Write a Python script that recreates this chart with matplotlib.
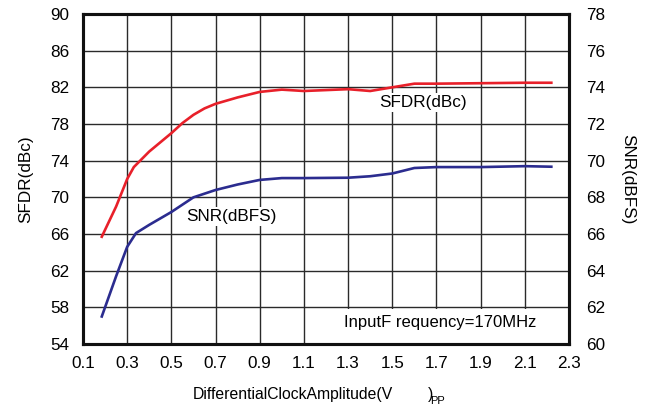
import matplotlib
matplotlib.use("Agg")
import matplotlib.pyplot as plt
from matplotlib.patches import Rectangle

plt.rcParams['font.family'] = ['Liberation Sans', 'DejaVu Sans']

# SFDR (left axis, dBc)
sfdr_x = [0.185, 0.25, 0.3, 0.33, 0.4, 0.5, 0.55, 0.6, 0.65, 0.7, 0.8, 0.9, 1.0,
          1.1, 1.2, 1.3, 1.4, 1.5, 1.6, 1.7, 1.9, 2.1, 2.22]
sfdr = [65.7, 69.0, 72.0, 73.3, 75.0, 77.0, 78.1, 79.0, 79.7, 80.2, 80.9, 81.5,
        81.75, 81.6, 81.7, 81.8, 81.6, 82.0, 82.4, 82.4, 82.45, 82.5, 82.5]

# SNR (right axis, dBFS)
snr_x = [0.185, 0.25, 0.3, 0.34, 0.4, 0.5, 0.6, 0.7, 0.8, 0.9, 1.0, 1.1, 1.3,
         1.4, 1.5, 1.6, 1.7, 1.9, 2.1, 2.22]
snr = [61.5, 63.7, 65.3, 66.05, 66.5, 67.2, 68.0, 68.4, 68.7, 68.95, 69.05,
       69.05, 69.07, 69.15, 69.3, 69.6, 69.65, 69.65, 69.7, 69.67]

x_ticks = [0.1, 0.3, 0.5, 0.7, 0.9, 1.1, 1.3, 1.5, 1.7, 1.9, 2.1, 2.3]
left_ticks = [54, 58, 62, 66, 70, 74, 78, 82, 86, 90]
right_ticks = [60, 62, 64, 66, 68, 70, 72, 74, 76, 78]

red = '#e8202a'
blue = '#2b2c8f'

fig = plt.figure(figsize=(6.47, 4.07), dpi=100)
ax = fig.add_axes([83 / 647, 63 / 407, 486 / 647, 330 / 407])
ax2 = ax.twinx()

ax.set_xlim(0.1, 2.3)
ax.set_ylim(54, 90)
ax2.set_ylim(60, 78)
ax.set_xticks(x_ticks)
ax.set_xticklabels([f"{v:.1f}" for v in x_ticks])
ax.set_yticks(left_ticks)
ax2.set_yticks(right_ticks)

ax.set_axisbelow(True)
ax.grid(True, color='#2a2a2a', linewidth=1.0)
ax.tick_params(length=0, labelsize=12.3, pad=10)
ax.tick_params(axis='x', pad=9)
ax2.tick_params(length=0, labelsize=12.3, pad=12)

for a in (ax, ax2):
    for s in a.spines.values():
        s.set_linewidth(2.2)
        s.set_color('#111111')

ax.plot(sfdr_x, sfdr, color=red, linewidth=1.9, solid_joinstyle='round', zorder=3)
ax2.plot(snr_x, snr, color=blue, linewidth=1.9, solid_joinstyle='round', zorder=3)

# white box behind the note at bottom right
ax.add_patch(Rectangle((1.25, 54), 1.05, 3.85, facecolor='white', edgecolor='none', zorder=1))

txt_box = dict(facecolor='white', edgecolor='none', pad=1.5)
ax.text(1.637, 80.3, 'SFDR(dBc)', fontsize=12.3, ha='center', va='center', bbox=txt_box, zorder=2)
ax.text(0.77, 67.9, 'SNR(dBFS)', fontsize=12.3, ha='center', va='center', bbox=txt_box, zorder=2)
ax.text(1.716, 56.33, 'InputF requency=170MHz', fontsize=12, ha='center', va='center', zorder=2)

ax.set_ylabel('SFDR(dBc)', fontsize=12.3, labelpad=12)
ax2.set_ylabel('SNR(dBFS)', fontsize=12.3, rotation=270, labelpad=22)

fig.text(193 / 647, 12 / 407, 'DifferentialClockAmplitude(V', fontsize=11.3, ha='left', va='center')
fig.text(428 / 647, 12 / 407, ')', fontsize=11.3, ha='left', va='center')
fig.text(430 / 647, 6 / 407, 'PP', fontsize=8, ha='left', va='center')

fig.savefig('out.png', dpi=100)
